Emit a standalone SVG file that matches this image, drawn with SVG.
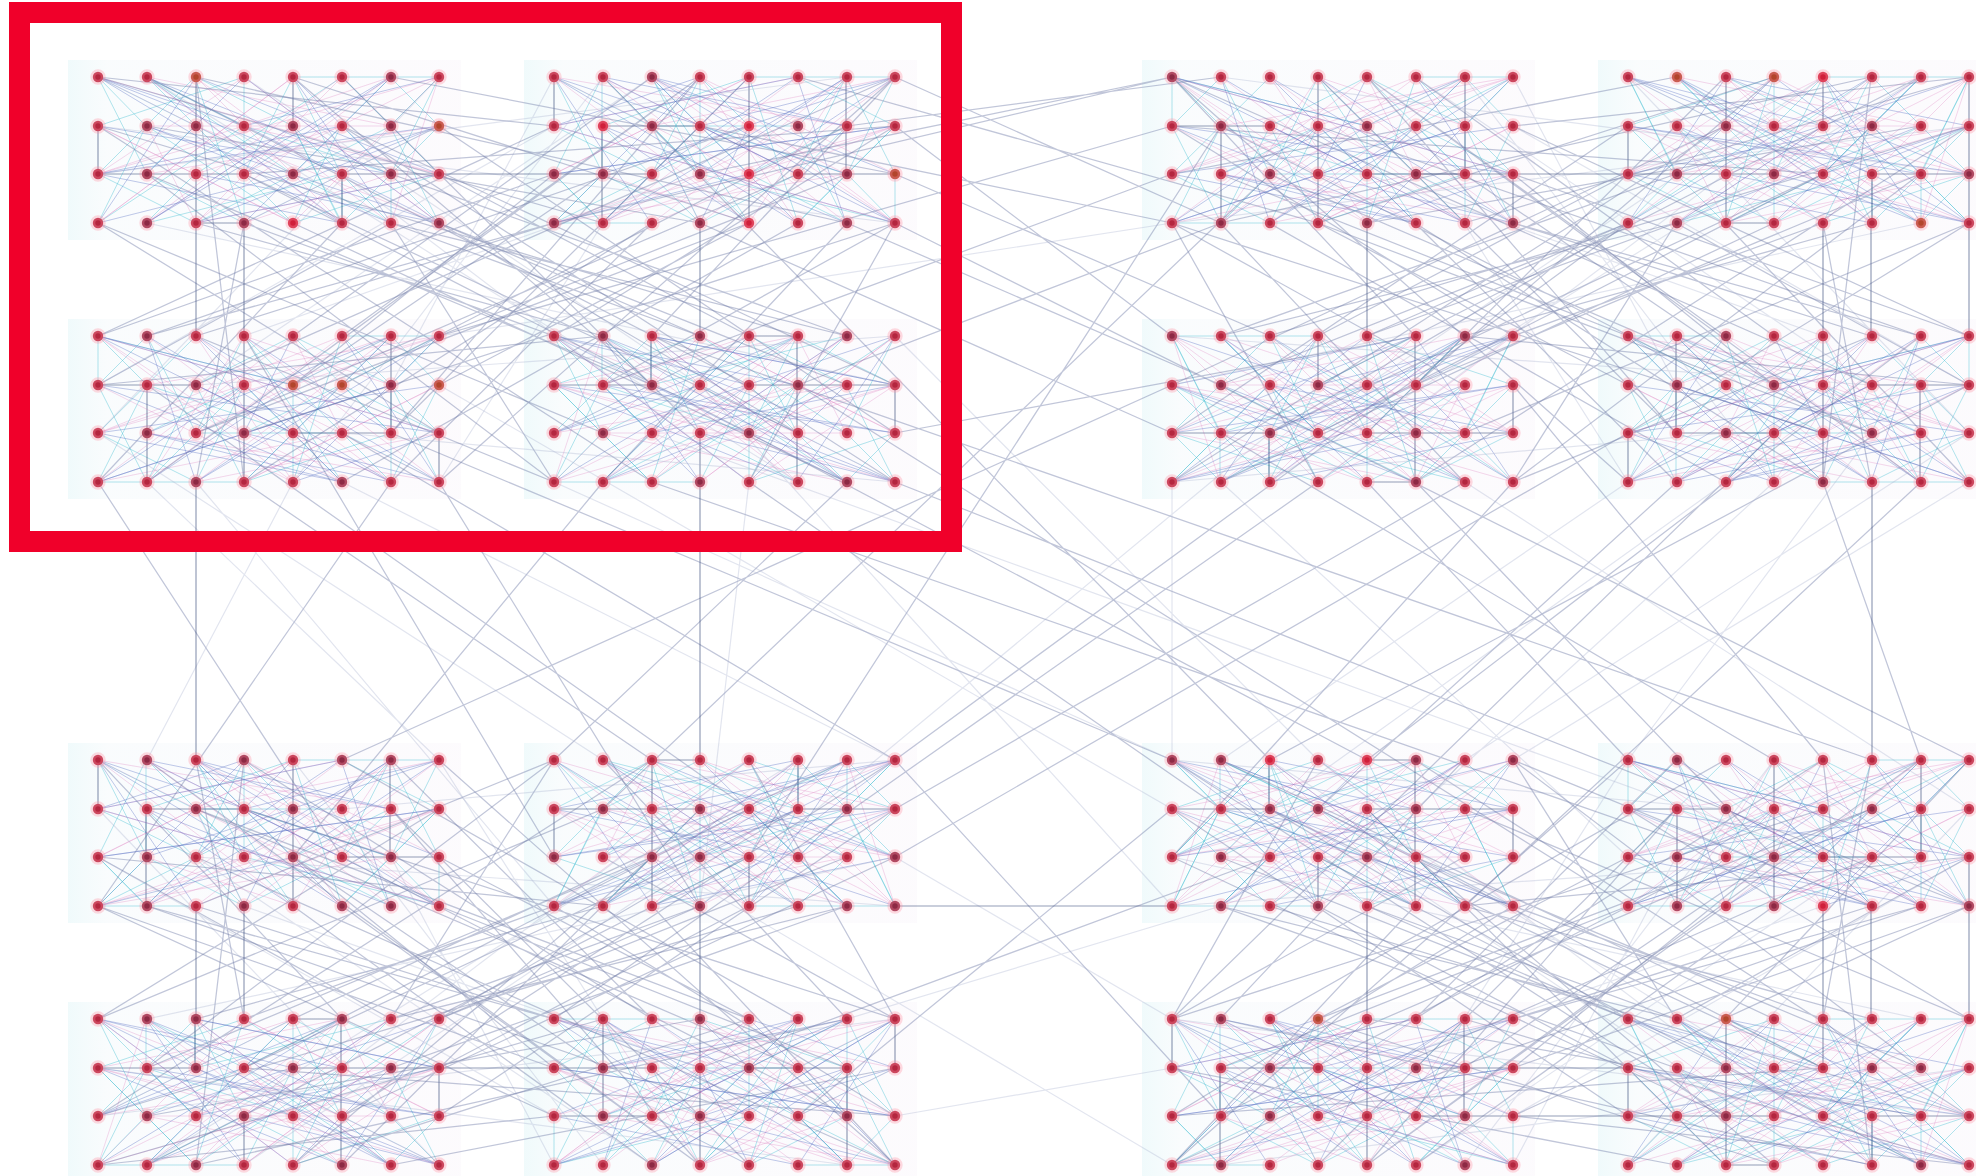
<svg xmlns="http://www.w3.org/2000/svg" xmlns:xlink="http://www.w3.org/1999/xlink" width="1976" height="1176" viewBox="0 0 1976 1176">
<style>
.c{fill:none;stroke:#3fbfd2;stroke-opacity:.4;stroke-width:1}
.p{fill:none;stroke:#df7fbf;stroke-opacity:.3;stroke-width:1}
.b{fill:none;stroke:#5a70c6;stroke-opacity:.38;stroke-width:1}
.d{fill:none;stroke:#3c4c7c;stroke-opacity:.55;stroke-width:1.2}
.g{fill:none;stroke:#6b77a5;stroke-opacity:.42;stroke-width:1.25}
.f{fill:none;stroke:#a7afcf;stroke-opacity:.33;stroke-width:1.2}
.nodes circle{r:5.2px;fill:#b4263f;stroke:#ff8ea2;stroke-opacity:.32;stroke-width:5}
.nodes .k circle{fill:#8d2944}
.nodes .o circle{fill:#b2452c}
.nodes .r circle{fill:#d01f3a}
</style>
<defs>
<linearGradient id="gbg" x1="0" y1="0" x2="1" y2="0">
<stop offset="0" stop-color="#e6f7f9"/><stop offset=".1" stop-color="#f6fafc"/><stop offset="1" stop-color="#fbf8fc"/>
</linearGradient>
<rect id="bg" x="-30" y="-17" width="393" height="180" fill="url(#gbg)" opacity=".6"/>
<g id="P1">
<path class="c" d="M0 0L98 49M49 0L146 97M98 0L195 49M146 0L146 146M195 0L341 0M244 49L341 146M293 0L195 97M341 49L244 146M0 97L98 146M49 49L195 146M98 97L244 0M146 49L293 97M195 146L341 97M0 146L146 49M49 146L244 97M293 146L98 49M244 0L341 97M0 49L146 0M98 146L293 49M146 146L341 49M195 97L49 0M293 97L293 146M244 97L244 146M0 0L49 97M341 0L293 97M195 49L244 146M146 97L195 0M49 97L146 146"/>
<path class="p" d="M0 0L195 97M49 0L293 49M98 49L341 146M146 0L0 97M195 49L49 146M244 0L98 146M293 97L146 146M341 0L195 146M0 146L195 0M49 97L341 49M98 0L244 146M146 97L341 0M293 49L49 49M195 146L0 49M244 49L98 97M341 97L146 49M293 146L341 0M49 49L98 146M0 97L293 0M98 146L341 97"/>
<path class="b" d="M0 0L146 49M0 0L244 97M49 49L293 146M98 0L341 97M146 0L49 97M195 0L293 146M244 49L0 97M293 0L146 97M341 49L98 146M0 97L244 146M49 146L195 49M98 97L341 146M146 146L293 0M195 97L341 49M244 146L49 0M0 146L98 0M293 97L195 0M341 146L146 0M49 0L341 146M0 49L293 97"/>
<path class="d" d="M98 0L98 146M0 49L0 97M0 97L146 97M98 146L146 146M244 97L244 146M244 97L341 97M195 0L195 49"/>
</g>
<g id="P2">
<path class="c" d="M0 0L146 0M49 0L98 97M98 49L244 49M146 0L293 49M195 0L195 97M244 0L146 146M293 0L341 97M341 0L244 49M0 49L98 146M49 49L146 97M98 97L195 146M146 49L341 146M195 49L293 146M244 97L341 49M293 49L195 146M0 146L195 97M49 146L98 49M146 146L244 49M244 146L341 146M0 97L49 0M98 0L0 49M195 146L293 97M341 97L293 146M49 97L195 49M146 97L244 0M293 0L293 97M0 97L0 146"/>
<path class="p" d="M0 0L244 49M49 0L146 146M98 0L341 49M146 0L341 97M195 0L0 146M244 0L49 97M293 0L98 97M341 0L146 97M0 49L244 146M49 49L341 0M98 49L293 146M146 49L0 146M195 97L341 146M244 49L195 146M293 146L0 49M341 146L49 97M98 146L195 0M146 146L293 97"/>
<path class="b" d="M0 0L293 97M49 0L195 97M98 0L49 146M146 0L293 146M195 0L341 146M244 0L0 97M293 0L49 49M341 0L98 146M0 49L341 97M49 49L244 0M98 97L293 0M146 49L195 146M195 49L0 146M244 97L98 0M293 49L146 146M341 49L195 0M0 146L341 49M98 146L244 0M146 97L0 0M244 146L341 0"/>
<path class="d" d="M49 0L49 97M146 0L146 146M0 97L98 97M195 49L293 49M293 49L293 146M341 0L341 49"/>
</g>
<g id="P3">
<path class="c" d="M0 0L49 49M49 0L0 49M98 49L146 146M146 49L98 146M195 49L293 0M244 0L195 146M293 49L341 0M341 146L293 49M0 146L49 49M49 146L146 49M98 97L146 0M195 97L146 146M244 97L293 146M293 97L244 49M341 97L244 0"/>
<path class="p" d="M0 49L195 146M49 0L244 146M98 0L293 146M146 0L341 146M195 0L0 146M244 0L49 146M293 0L98 146M341 49L146 146M0 97L341 0M0 0L341 97"/>
<path class="b" d="M0 146L293 49M49 97L293 0M98 146L341 0M146 97L341 146M195 49L0 0M244 146L0 97M293 146L49 0M341 97L0 49"/>
</g>
<g id="Q">
<path class="g" d="M0 0L456 49M49 49L602 146M98 146L505 259M146 97L700 356M195 146L749 405M244 49L797 308M293 146L456 405M341 97L651 259M0 146L341 356M49 97L554 308M98 0L146 405M146 146L98 405M195 0L651 146M244 146L0 405M293 0L797 97M341 146L602 259M456 146L49 259M505 97L195 308M554 146L293 405M602 0L244 259M651 146L341 308M700 97L98 356M749 146L505 405M797 49L456 259M797 146L651 405M0 259L456 97M49 405L602 0M146 356L797 146M195 259L554 0M244 308L749 49M293 356L651 0M341 405L797 0M0 308L293 146M98 259L456 146M456 259L146 146M505 308L797 146M554 405L0 49M602 356L244 0M651 308L49 0M749 259L293 97M797 356L341 49"/>
<path class="f" d="M0 49L797 146M49 0L700 405M98 308L797 259M146 259L602 97M195 405L505 0M244 356L797 405M293 308L456 0M341 0L0 356M456 49L0 308M505 146L341 405M554 0L98 308M602 308L146 0M651 405L244 97M749 0L0 97M797 308L49 146"/>
<path class="d" d="M98 146L98 259M146 146L146 259M602 146L602 259M341 97L554 97"/>
</g>
<g id="Q2">
<path class="g" d="M0 97L505 146M49 146L651 356M98 97L797 405M146 0L554 259M195 97L456 308M244 0L700 259M293 49L602 405M341 146L749 308M456 0L98 146M505 49L0 259M554 97L195 405M602 146L293 259M651 49L146 308M700 146L0 356M749 97L341 259M797 0L244 356M0 405L505 259M146 308L797 356M293 259L749 146M456 356L0 146M651 259L98 49M797 405L554 146M49 308L456 0M341 259L700 49M98 405L749 259"/>
</g>
</defs>
<rect width="1976" height="1176" fill="#ffffff"/>
<g id="backgrounds">
<use href="#bg" x="98" y="77"/><use href="#bg" x="554" y="77"/><use href="#bg" x="98" y="336"/><use href="#bg" x="554" y="336"/>
<use href="#bg" x="1172" y="77"/><use href="#bg" x="1628" y="77"/><use href="#bg" x="1172" y="336"/><use href="#bg" x="1628" y="336"/>
<use href="#bg" x="98" y="760"/><use href="#bg" x="554" y="760"/><use href="#bg" x="98" y="1019"/><use href="#bg" x="554" y="1019"/>
<use href="#bg" x="1172" y="760"/><use href="#bg" x="1628" y="760"/><use href="#bg" x="1172" y="1019"/><use href="#bg" x="1628" y="1019"/>
</g>
<g id="connectors">
<use href="#P1" transform="translate(98,77)"/>
<use href="#P2" transform="translate(895,77) scale(-1,1)"/>
<use href="#P2" transform="translate(98,482) scale(1,-1)"/>
<use href="#P1" transform="translate(895,482) scale(-1,-1)"/>
<use href="#P2" transform="translate(1172,223) scale(1,-1)"/>
<use href="#P1" transform="translate(1628,77)"/>
<use href="#P1" transform="translate(1513,336) scale(-1,1)"/>
<use href="#P2" transform="translate(1969,482) scale(-1,-1)"/>
<use href="#P2" transform="translate(439,760) scale(-1,1)"/>
<use href="#P1" transform="translate(554,906) scale(1,-1)"/>
<use href="#P1" transform="translate(439,1165) scale(-1,-1)"/>
<use href="#P2" transform="translate(554,1019)"/>
<use href="#P1" transform="translate(1513,906) scale(-1,-1)"/>
<use href="#P2" transform="translate(1628,906) scale(1,-1)"/>
<use href="#P2" transform="translate(1513,1019) scale(-1,1)"/>
<use href="#P1" transform="translate(1628,1019)"/>
<use href="#P3" transform="translate(439,77) scale(-1,1)"/>
<use href="#P3" transform="translate(554,223) scale(1,-1)"/>
<use href="#P3" transform="translate(98,336)"/>
<use href="#P3" transform="translate(895,482) scale(-1,-1)"/>
<use href="#P3" transform="translate(1172,77)"/>
<use href="#P3" transform="translate(1969,223) scale(-1,-1)"/>
<use href="#P3" transform="translate(1172,482) scale(1,-1)"/>
<use href="#P3" transform="translate(1969,336) scale(-1,1)"/>
<use href="#P3" transform="translate(98,906) scale(1,-1)"/>
<use href="#P3" transform="translate(895,760) scale(-1,1)"/>
<use href="#P3" transform="translate(439,1165) scale(-1,-1)"/>
<use href="#P3" transform="translate(554,1019)"/>
<use href="#P3" transform="translate(1513,760) scale(-1,1)"/>
<use href="#P3" transform="translate(1628,760)"/>
<use href="#P3" transform="translate(1172,1165) scale(1,-1)"/>
<use href="#P3" transform="translate(1969,1165) scale(-1,-1)"/>
<use href="#Q" transform="translate(98,77)"/>
<use href="#Q" transform="translate(1969,77) scale(-1,1)"/>
<use href="#Q" transform="translate(98,1165) scale(1,-1)"/>
<use href="#Q" transform="translate(1969,1165) scale(-1,-1)"/>
<use href="#Q2" transform="translate(98,482) scale(1,-1)"/>
<use href="#Q2" transform="translate(1969,482) scale(-1,-1)"/>
<use href="#Q2" transform="translate(98,760)"/>
<use href="#Q2" transform="translate(1969,760) scale(-1,1)"/>
<path class="g" d="M1172 77L554 223M1172 126L439 336M1172 223L700 126M1172 174L603 385M1270 174L603 809M603 77L1270 760M895 482L1969 906M1416 482L1774 857M1921 482L1465 906M1513 482L1172 857M652 482L1726 857M439 482L700 906M603 482L293 857M1221 126L749 857M895 126L1172 336M847 223L1221 385M798 77L1318 223M749 433L1367 760M244 482L652 760M98 482L342 857M391 482L98 906M847 482L554 760M1367 482L1628 760M1677 482L1318 809M1823 482L1921 760M798 385L1628 906M652 336L1872 760M391 433L1172 760M895 223L1969 760M1318 482L554 1019M1628 433L895 857M1172 385L342 760M847 126L1221 77M895 174L1270 336M700 223L1172 433M798 385L1221 223M895 433L1416 336M700 174L1172 77M895 77L1221 223M1172 809L798 1116M895 760L1221 1116M700 1068L1270 857M342 433L895 760M147 385L749 809M1969 385L1270 760M1774 433L1172 1019M1921 336L1367 760M1513 385L1823 760M1221 433L1774 760M244 336L554 857M749 482L1221 809M1465 482L895 809M1628 223L895 760"/>
<path class="f" d="M554 482L1172 760M342 482L895 760M1969 482L1513 760M1726 482L1270 809M1221 482L1628 857M700 385L1172 906M895 336L1318 760M147 482L439 760M293 482L147 760M196 482L554 906M1465 482L1969 809M1872 433L1628 760M1628 482L1221 760M439 385L1172 809M652 433L1823 857M1270 433L700 906M895 857L1172 1019M847 1019L1221 906M895 1116L1172 1068M1172 1165L652 857M749 482L700 906M1172 482L1172 760M1774 482L1416 809M98 433L603 760M1969 433L1465 760M439 336L1172 223"/>
<path class="d" d="M196 482L196 760M700 482L700 760M1872 482L1872 760M895 906L1172 906M1969 77L1969 336M1969 906L1969 1019M1513 1116L1628 1116"/>
</g>
<g class="nodes">
<g id="n0-0"><circle cx="98" cy="77"/></g><g id="n0-1"><circle cx="147" cy="77"/></g><g id="n0-2" class="o"><circle cx="196" cy="77"/></g><g id="n0-3"><circle cx="244" cy="77"/></g><g id="n0-4"><circle cx="293" cy="77"/></g><g id="n0-5"><circle cx="342" cy="77"/></g><g id="n0-6" class="k"><circle cx="391" cy="77"/></g><g id="n0-7"><circle cx="439" cy="77"/></g><g id="n0-8"><circle cx="554" cy="77"/></g><g id="n0-9"><circle cx="603" cy="77"/></g><g id="n0-10" class="k"><circle cx="652" cy="77"/></g><g id="n0-11"><circle cx="700" cy="77"/></g><g id="n0-12"><circle cx="749" cy="77"/></g><g id="n0-13"><circle cx="798" cy="77"/></g><g id="n0-14"><circle cx="847" cy="77"/></g><g id="n0-15"><circle cx="895" cy="77"/></g><g id="n0-16" class="k"><circle cx="1172" cy="77"/></g><g id="n0-17"><circle cx="1221" cy="77"/></g><g id="n0-18"><circle cx="1270" cy="77"/></g><g id="n0-19"><circle cx="1318" cy="77"/></g><g id="n0-20"><circle cx="1367" cy="77"/></g><g id="n0-21"><circle cx="1416" cy="77"/></g><g id="n0-22"><circle cx="1465" cy="77"/></g><g id="n0-23"><circle cx="1513" cy="77"/></g><g id="n0-24"><circle cx="1628" cy="77"/></g><g id="n0-25" class="o"><circle cx="1677" cy="77"/></g><g id="n0-26"><circle cx="1726" cy="77"/></g><g id="n0-27" class="o"><circle cx="1774" cy="77"/></g><g id="n0-28" class="r"><circle cx="1823" cy="77"/></g><g id="n0-29"><circle cx="1872" cy="77"/></g><g id="n0-30"><circle cx="1921" cy="77"/></g><g id="n0-31"><circle cx="1969" cy="77"/></g>
<g id="n1-0"><circle cx="98" cy="126"/></g><g id="n1-1" class="k"><circle cx="147" cy="126"/></g><g id="n1-2" class="k"><circle cx="196" cy="126"/></g><g id="n1-3"><circle cx="244" cy="126"/></g><g id="n1-4" class="k"><circle cx="293" cy="126"/></g><g id="n1-5"><circle cx="342" cy="126"/></g><g id="n1-6" class="k"><circle cx="391" cy="126"/></g><g id="n1-7" class="o"><circle cx="439" cy="126"/></g><g id="n1-8"><circle cx="554" cy="126"/></g><g id="n1-9" class="r"><circle cx="603" cy="126"/></g><g id="n1-10" class="k"><circle cx="652" cy="126"/></g><g id="n1-11"><circle cx="700" cy="126"/></g><g id="n1-12" class="r"><circle cx="749" cy="126"/></g><g id="n1-13" class="k"><circle cx="798" cy="126"/></g><g id="n1-14"><circle cx="847" cy="126"/></g><g id="n1-15"><circle cx="895" cy="126"/></g><g id="n1-16"><circle cx="1172" cy="126"/></g><g id="n1-17" class="k"><circle cx="1221" cy="126"/></g><g id="n1-18"><circle cx="1270" cy="126"/></g><g id="n1-19"><circle cx="1318" cy="126"/></g><g id="n1-20" class="k"><circle cx="1367" cy="126"/></g><g id="n1-21"><circle cx="1416" cy="126"/></g><g id="n1-22"><circle cx="1465" cy="126"/></g><g id="n1-23"><circle cx="1513" cy="126"/></g><g id="n1-24"><circle cx="1628" cy="126"/></g><g id="n1-25"><circle cx="1677" cy="126"/></g><g id="n1-26" class="k"><circle cx="1726" cy="126"/></g><g id="n1-27"><circle cx="1774" cy="126"/></g><g id="n1-28"><circle cx="1823" cy="126"/></g><g id="n1-29" class="k"><circle cx="1872" cy="126"/></g><g id="n1-30"><circle cx="1921" cy="126"/></g><g id="n1-31"><circle cx="1969" cy="126"/></g>
<g id="n2-0"><circle cx="98" cy="174"/></g><g id="n2-1" class="k"><circle cx="147" cy="174"/></g><g id="n2-2"><circle cx="196" cy="174"/></g><g id="n2-3"><circle cx="244" cy="174"/></g><g id="n2-4" class="k"><circle cx="293" cy="174"/></g><g id="n2-5"><circle cx="342" cy="174"/></g><g id="n2-6" class="k"><circle cx="391" cy="174"/></g><g id="n2-7"><circle cx="439" cy="174"/></g><g id="n2-8" class="k"><circle cx="554" cy="174"/></g><g id="n2-9" class="k"><circle cx="603" cy="174"/></g><g id="n2-10"><circle cx="652" cy="174"/></g><g id="n2-11" class="k"><circle cx="700" cy="174"/></g><g id="n2-12" class="r"><circle cx="749" cy="174"/></g><g id="n2-13"><circle cx="798" cy="174"/></g><g id="n2-14" class="k"><circle cx="847" cy="174"/></g><g id="n2-15" class="o"><circle cx="895" cy="174"/></g><g id="n2-16"><circle cx="1172" cy="174"/></g><g id="n2-17"><circle cx="1221" cy="174"/></g><g id="n2-18" class="k"><circle cx="1270" cy="174"/></g><g id="n2-19"><circle cx="1318" cy="174"/></g><g id="n2-20"><circle cx="1367" cy="174"/></g><g id="n2-21" class="k"><circle cx="1416" cy="174"/></g><g id="n2-22"><circle cx="1465" cy="174"/></g><g id="n2-23"><circle cx="1513" cy="174"/></g><g id="n2-24"><circle cx="1628" cy="174"/></g><g id="n2-25" class="k"><circle cx="1677" cy="174"/></g><g id="n2-26"><circle cx="1726" cy="174"/></g><g id="n2-27" class="k"><circle cx="1774" cy="174"/></g><g id="n2-28"><circle cx="1823" cy="174"/></g><g id="n2-29"><circle cx="1872" cy="174"/></g><g id="n2-30"><circle cx="1921" cy="174"/></g><g id="n2-31" class="k"><circle cx="1969" cy="174"/></g>
<g id="n3-0"><circle cx="98" cy="223"/></g><g id="n3-1" class="k"><circle cx="147" cy="223"/></g><g id="n3-2"><circle cx="196" cy="223"/></g><g id="n3-3" class="k"><circle cx="244" cy="223"/></g><g id="n3-4" class="r"><circle cx="293" cy="223"/></g><g id="n3-5"><circle cx="342" cy="223"/></g><g id="n3-6"><circle cx="391" cy="223"/></g><g id="n3-7" class="k"><circle cx="439" cy="223"/></g><g id="n3-8" class="k"><circle cx="554" cy="223"/></g><g id="n3-9"><circle cx="603" cy="223"/></g><g id="n3-10"><circle cx="652" cy="223"/></g><g id="n3-11" class="k"><circle cx="700" cy="223"/></g><g id="n3-12" class="r"><circle cx="749" cy="223"/></g><g id="n3-13"><circle cx="798" cy="223"/></g><g id="n3-14" class="k"><circle cx="847" cy="223"/></g><g id="n3-15"><circle cx="895" cy="223"/></g><g id="n3-16"><circle cx="1172" cy="223"/></g><g id="n3-17" class="k"><circle cx="1221" cy="223"/></g><g id="n3-18"><circle cx="1270" cy="223"/></g><g id="n3-19"><circle cx="1318" cy="223"/></g><g id="n3-20" class="k"><circle cx="1367" cy="223"/></g><g id="n3-21"><circle cx="1416" cy="223"/></g><g id="n3-22"><circle cx="1465" cy="223"/></g><g id="n3-23" class="k"><circle cx="1513" cy="223"/></g><g id="n3-24"><circle cx="1628" cy="223"/></g><g id="n3-25" class="k"><circle cx="1677" cy="223"/></g><g id="n3-26"><circle cx="1726" cy="223"/></g><g id="n3-27"><circle cx="1774" cy="223"/></g><g id="n3-28"><circle cx="1823" cy="223"/></g><g id="n3-29"><circle cx="1872" cy="223"/></g><g id="n3-30" class="o"><circle cx="1921" cy="223"/></g><g id="n3-31"><circle cx="1969" cy="223"/></g>
<g id="n4-0"><circle cx="98" cy="336"/></g><g id="n4-1" class="k"><circle cx="147" cy="336"/></g><g id="n4-2"><circle cx="196" cy="336"/></g><g id="n4-3"><circle cx="244" cy="336"/></g><g id="n4-4"><circle cx="293" cy="336"/></g><g id="n4-5"><circle cx="342" cy="336"/></g><g id="n4-6"><circle cx="391" cy="336"/></g><g id="n4-7"><circle cx="439" cy="336"/></g><g id="n4-8"><circle cx="554" cy="336"/></g><g id="n4-9" class="k"><circle cx="603" cy="336"/></g><g id="n4-10"><circle cx="652" cy="336"/></g><g id="n4-11" class="k"><circle cx="700" cy="336"/></g><g id="n4-12"><circle cx="749" cy="336"/></g><g id="n4-13"><circle cx="798" cy="336"/></g><g id="n4-14" class="k"><circle cx="847" cy="336"/></g><g id="n4-15"><circle cx="895" cy="336"/></g><g id="n4-16" class="k"><circle cx="1172" cy="336"/></g><g id="n4-17"><circle cx="1221" cy="336"/></g><g id="n4-18"><circle cx="1270" cy="336"/></g><g id="n4-19"><circle cx="1318" cy="336"/></g><g id="n4-20"><circle cx="1367" cy="336"/></g><g id="n4-21"><circle cx="1416" cy="336"/></g><g id="n4-22" class="k"><circle cx="1465" cy="336"/></g><g id="n4-23"><circle cx="1513" cy="336"/></g><g id="n4-24"><circle cx="1628" cy="336"/></g><g id="n4-25"><circle cx="1677" cy="336"/></g><g id="n4-26" class="k"><circle cx="1726" cy="336"/></g><g id="n4-27"><circle cx="1774" cy="336"/></g><g id="n4-28"><circle cx="1823" cy="336"/></g><g id="n4-29"><circle cx="1872" cy="336"/></g><g id="n4-30"><circle cx="1921" cy="336"/></g><g id="n4-31"><circle cx="1969" cy="336"/></g>
<g id="n5-0"><circle cx="98" cy="385"/></g><g id="n5-1"><circle cx="147" cy="385"/></g><g id="n5-2" class="k"><circle cx="196" cy="385"/></g><g id="n5-3"><circle cx="244" cy="385"/></g><g id="n5-4" class="o"><circle cx="293" cy="385"/></g><g id="n5-5" class="o"><circle cx="342" cy="385"/></g><g id="n5-6" class="k"><circle cx="391" cy="385"/></g><g id="n5-7" class="o"><circle cx="439" cy="385"/></g><g id="n5-8"><circle cx="554" cy="385"/></g><g id="n5-9"><circle cx="603" cy="385"/></g><g id="n5-10" class="k"><circle cx="652" cy="385"/></g><g id="n5-11"><circle cx="700" cy="385"/></g><g id="n5-12"><circle cx="749" cy="385"/></g><g id="n5-13" class="k"><circle cx="798" cy="385"/></g><g id="n5-14"><circle cx="847" cy="385"/></g><g id="n5-15"><circle cx="895" cy="385"/></g><g id="n5-16"><circle cx="1172" cy="385"/></g><g id="n5-17" class="k"><circle cx="1221" cy="385"/></g><g id="n5-18"><circle cx="1270" cy="385"/></g><g id="n5-19" class="k"><circle cx="1318" cy="385"/></g><g id="n5-20"><circle cx="1367" cy="385"/></g><g id="n5-21"><circle cx="1416" cy="385"/></g><g id="n5-22"><circle cx="1465" cy="385"/></g><g id="n5-23"><circle cx="1513" cy="385"/></g><g id="n5-24"><circle cx="1628" cy="385"/></g><g id="n5-25" class="k"><circle cx="1677" cy="385"/></g><g id="n5-26"><circle cx="1726" cy="385"/></g><g id="n5-27" class="k"><circle cx="1774" cy="385"/></g><g id="n5-28"><circle cx="1823" cy="385"/></g><g id="n5-29"><circle cx="1872" cy="385"/></g><g id="n5-30"><circle cx="1921" cy="385"/></g><g id="n5-31"><circle cx="1969" cy="385"/></g>
<g id="n6-0"><circle cx="98" cy="433"/></g><g id="n6-1" class="k"><circle cx="147" cy="433"/></g><g id="n6-2"><circle cx="196" cy="433"/></g><g id="n6-3" class="k"><circle cx="244" cy="433"/></g><g id="n6-4"><circle cx="293" cy="433"/></g><g id="n6-5"><circle cx="342" cy="433"/></g><g id="n6-6"><circle cx="391" cy="433"/></g><g id="n6-7"><circle cx="439" cy="433"/></g><g id="n6-8"><circle cx="554" cy="433"/></g><g id="n6-9" class="k"><circle cx="603" cy="433"/></g><g id="n6-10"><circle cx="652" cy="433"/></g><g id="n6-11"><circle cx="700" cy="433"/></g><g id="n6-12" class="k"><circle cx="749" cy="433"/></g><g id="n6-13"><circle cx="798" cy="433"/></g><g id="n6-14"><circle cx="847" cy="433"/></g><g id="n6-15"><circle cx="895" cy="433"/></g><g id="n6-16"><circle cx="1172" cy="433"/></g><g id="n6-17"><circle cx="1221" cy="433"/></g><g id="n6-18" class="k"><circle cx="1270" cy="433"/></g><g id="n6-19"><circle cx="1318" cy="433"/></g><g id="n6-20"><circle cx="1367" cy="433"/></g><g id="n6-21" class="k"><circle cx="1416" cy="433"/></g><g id="n6-22"><circle cx="1465" cy="433"/></g><g id="n6-23"><circle cx="1513" cy="433"/></g><g id="n6-24"><circle cx="1628" cy="433"/></g><g id="n6-25"><circle cx="1677" cy="433"/></g><g id="n6-26" class="k"><circle cx="1726" cy="433"/></g><g id="n6-27"><circle cx="1774" cy="433"/></g><g id="n6-28"><circle cx="1823" cy="433"/></g><g id="n6-29" class="k"><circle cx="1872" cy="433"/></g><g id="n6-30"><circle cx="1921" cy="433"/></g><g id="n6-31"><circle cx="1969" cy="433"/></g>
<g id="n7-0"><circle cx="98" cy="482"/></g><g id="n7-1"><circle cx="147" cy="482"/></g><g id="n7-2" class="k"><circle cx="196" cy="482"/></g><g id="n7-3"><circle cx="244" cy="482"/></g><g id="n7-4"><circle cx="293" cy="482"/></g><g id="n7-5" class="k"><circle cx="342" cy="482"/></g><g id="n7-6"><circle cx="391" cy="482"/></g><g id="n7-7"><circle cx="439" cy="482"/></g><g id="n7-8"><circle cx="554" cy="482"/></g><g id="n7-9"><circle cx="603" cy="482"/></g><g id="n7-10"><circle cx="652" cy="482"/></g><g id="n7-11" class="k"><circle cx="700" cy="482"/></g><g id="n7-12"><circle cx="749" cy="482"/></g><g id="n7-13"><circle cx="798" cy="482"/></g><g id="n7-14" class="k"><circle cx="847" cy="482"/></g><g id="n7-15"><circle cx="895" cy="482"/></g><g id="n7-16"><circle cx="1172" cy="482"/></g><g id="n7-17"><circle cx="1221" cy="482"/></g><g id="n7-18"><circle cx="1270" cy="482"/></g><g id="n7-19"><circle cx="1318" cy="482"/></g><g id="n7-20"><circle cx="1367" cy="482"/></g><g id="n7-21" class="k"><circle cx="1416" cy="482"/></g><g id="n7-22"><circle cx="1465" cy="482"/></g><g id="n7-23"><circle cx="1513" cy="482"/></g><g id="n7-24"><circle cx="1628" cy="482"/></g><g id="n7-25"><circle cx="1677" cy="482"/></g><g id="n7-26"><circle cx="1726" cy="482"/></g><g id="n7-27"><circle cx="1774" cy="482"/></g><g id="n7-28" class="k"><circle cx="1823" cy="482"/></g><g id="n7-29"><circle cx="1872" cy="482"/></g><g id="n7-30"><circle cx="1921" cy="482"/></g><g id="n7-31"><circle cx="1969" cy="482"/></g>
<g id="n8-0"><circle cx="98" cy="760"/></g><g id="n8-1" class="k"><circle cx="147" cy="760"/></g><g id="n8-2"><circle cx="196" cy="760"/></g><g id="n8-3" class="k"><circle cx="244" cy="760"/></g><g id="n8-4"><circle cx="293" cy="760"/></g><g id="n8-5" class="k"><circle cx="342" cy="760"/></g><g id="n8-6" class="k"><circle cx="391" cy="760"/></g><g id="n8-7"><circle cx="439" cy="760"/></g><g id="n8-8"><circle cx="554" cy="760"/></g><g id="n8-9"><circle cx="603" cy="760"/></g><g id="n8-10"><circle cx="652" cy="760"/></g><g id="n8-11"><circle cx="700" cy="760"/></g><g id="n8-12"><circle cx="749" cy="760"/></g><g id="n8-13"><circle cx="798" cy="760"/></g><g id="n8-14"><circle cx="847" cy="760"/></g><g id="n8-15"><circle cx="895" cy="760"/></g><g id="n8-16" class="k"><circle cx="1172" cy="760"/></g><g id="n8-17" class="k"><circle cx="1221" cy="760"/></g><g id="n8-18" class="r"><circle cx="1270" cy="760"/></g><g id="n8-19"><circle cx="1318" cy="760"/></g><g id="n8-20" class="r"><circle cx="1367" cy="760"/></g><g id="n8-21" class="k"><circle cx="1416" cy="760"/></g><g id="n8-22"><circle cx="1465" cy="760"/></g><g id="n8-23" class="k"><circle cx="1513" cy="760"/></g><g id="n8-24"><circle cx="1628" cy="760"/></g><g id="n8-25" class="k"><circle cx="1677" cy="760"/></g><g id="n8-26"><circle cx="1726" cy="760"/></g><g id="n8-27"><circle cx="1774" cy="760"/></g><g id="n8-28"><circle cx="1823" cy="760"/></g><g id="n8-29"><circle cx="1872" cy="760"/></g><g id="n8-30"><circle cx="1921" cy="760"/></g><g id="n8-31"><circle cx="1969" cy="760"/></g>
<g id="n9-0"><circle cx="98" cy="809"/></g><g id="n9-1"><circle cx="147" cy="809"/></g><g id="n9-2" class="k"><circle cx="196" cy="809"/></g><g id="n9-3"><circle cx="244" cy="809"/></g><g id="n9-4" class="k"><circle cx="293" cy="809"/></g><g id="n9-5"><circle cx="342" cy="809"/></g><g id="n9-6"><circle cx="391" cy="809"/></g><g id="n9-7"><circle cx="439" cy="809"/></g><g id="n9-8"><circle cx="554" cy="809"/></g><g id="n9-9" class="k"><circle cx="603" cy="809"/></g><g id="n9-10"><circle cx="652" cy="809"/></g><g id="n9-11" class="k"><circle cx="700" cy="809"/></g><g id="n9-12"><circle cx="749" cy="809"/></g><g id="n9-13"><circle cx="798" cy="809"/></g><g id="n9-14" class="k"><circle cx="847" cy="809"/></g><g id="n9-15"><circle cx="895" cy="809"/></g><g id="n9-16"><circle cx="1172" cy="809"/></g><g id="n9-17"><circle cx="1221" cy="809"/></g><g id="n9-18" class="k"><circle cx="1270" cy="809"/></g><g id="n9-19" class="k"><circle cx="1318" cy="809"/></g><g id="n9-20"><circle cx="1367" cy="809"/></g><g id="n9-21" class="k"><circle cx="1416" cy="809"/></g><g id="n9-22"><circle cx="1465" cy="809"/></g><g id="n9-23"><circle cx="1513" cy="809"/></g><g id="n9-24"><circle cx="1628" cy="809"/></g><g id="n9-25"><circle cx="1677" cy="809"/></g><g id="n9-26" class="k"><circle cx="1726" cy="809"/></g><g id="n9-27"><circle cx="1774" cy="809"/></g><g id="n9-28"><circle cx="1823" cy="809"/></g><g id="n9-29" class="k"><circle cx="1872" cy="809"/></g><g id="n9-30"><circle cx="1921" cy="809"/></g><g id="n9-31"><circle cx="1969" cy="809"/></g>
<g id="n10-0"><circle cx="98" cy="857"/></g><g id="n10-1" class="k"><circle cx="147" cy="857"/></g><g id="n10-2"><circle cx="196" cy="857"/></g><g id="n10-3"><circle cx="244" cy="857"/></g><g id="n10-4" class="k"><circle cx="293" cy="857"/></g><g id="n10-5"><circle cx="342" cy="857"/></g><g id="n10-6" class="k"><circle cx="391" cy="857"/></g><g id="n10-7"><circle cx="439" cy="857"/></g><g id="n10-8" class="k"><circle cx="554" cy="857"/></g><g id="n10-9"><circle cx="603" cy="857"/></g><g id="n10-10" class="k"><circle cx="652" cy="857"/></g><g id="n10-11" class="k"><circle cx="700" cy="857"/></g><g id="n10-12"><circle cx="749" cy="857"/></g><g id="n10-13"><circle cx="798" cy="857"/></g><g id="n10-14"><circle cx="847" cy="857"/></g><g id="n10-15" class="k"><circle cx="895" cy="857"/></g><g id="n10-16"><circle cx="1172" cy="857"/></g><g id="n10-17" class="k"><circle cx="1221" cy="857"/></g><g id="n10-18"><circle cx="1270" cy="857"/></g><g id="n10-19"><circle cx="1318" cy="857"/></g><g id="n10-20" class="k"><circle cx="1367" cy="857"/></g><g id="n10-21"><circle cx="1416" cy="857"/></g><g id="n10-22"><circle cx="1465" cy="857"/></g><g id="n10-23"><circle cx="1513" cy="857"/></g><g id="n10-24"><circle cx="1628" cy="857"/></g><g id="n10-25" class="k"><circle cx="1677" cy="857"/></g><g id="n10-26"><circle cx="1726" cy="857"/></g><g id="n10-27" class="k"><circle cx="1774" cy="857"/></g><g id="n10-28"><circle cx="1823" cy="857"/></g><g id="n10-29"><circle cx="1872" cy="857"/></g><g id="n10-30"><circle cx="1921" cy="857"/></g><g id="n10-31"><circle cx="1969" cy="857"/></g>
<g id="n11-0"><circle cx="98" cy="906"/></g><g id="n11-1" class="k"><circle cx="147" cy="906"/></g><g id="n11-2"><circle cx="196" cy="906"/></g><g id="n11-3" class="k"><circle cx="244" cy="906"/></g><g id="n11-4"><circle cx="293" cy="906"/></g><g id="n11-5" class="k"><circle cx="342" cy="906"/></g><g id="n11-6" class="k"><circle cx="391" cy="906"/></g><g id="n11-7"><circle cx="439" cy="906"/></g><g id="n11-8"><circle cx="554" cy="906"/></g><g id="n11-9"><circle cx="603" cy="906"/></g><g id="n11-10"><circle cx="652" cy="906"/></g><g id="n11-11" class="k"><circle cx="700" cy="906"/></g><g id="n11-12"><circle cx="749" cy="906"/></g><g id="n11-13"><circle cx="798" cy="906"/></g><g id="n11-14" class="k"><circle cx="847" cy="906"/></g><g id="n11-15" class="k"><circle cx="895" cy="906"/></g><g id="n11-16"><circle cx="1172" cy="906"/></g><g id="n11-17" class="k"><circle cx="1221" cy="906"/></g><g id="n11-18"><circle cx="1270" cy="906"/></g><g id="n11-19" class="k"><circle cx="1318" cy="906"/></g><g id="n11-20"><circle cx="1367" cy="906"/></g><g id="n11-21"><circle cx="1416" cy="906"/></g><g id="n11-22"><circle cx="1465" cy="906"/></g><g id="n11-23"><circle cx="1513" cy="906"/></g><g id="n11-24"><circle cx="1628" cy="906"/></g><g id="n11-25" class="k"><circle cx="1677" cy="906"/></g><g id="n11-26"><circle cx="1726" cy="906"/></g><g id="n11-27" class="k"><circle cx="1774" cy="906"/></g><g id="n11-28" class="r"><circle cx="1823" cy="906"/></g><g id="n11-29"><circle cx="1872" cy="906"/></g><g id="n11-30"><circle cx="1921" cy="906"/></g><g id="n11-31" class="k"><circle cx="1969" cy="906"/></g>
<g id="n12-0"><circle cx="98" cy="1019"/></g><g id="n12-1" class="k"><circle cx="147" cy="1019"/></g><g id="n12-2" class="k"><circle cx="196" cy="1019"/></g><g id="n12-3"><circle cx="244" cy="1019"/></g><g id="n12-4"><circle cx="293" cy="1019"/></g><g id="n12-5" class="k"><circle cx="342" cy="1019"/></g><g id="n12-6"><circle cx="391" cy="1019"/></g><g id="n12-7"><circle cx="439" cy="1019"/></g><g id="n12-8"><circle cx="554" cy="1019"/></g><g id="n12-9"><circle cx="603" cy="1019"/></g><g id="n12-10"><circle cx="652" cy="1019"/></g><g id="n12-11" class="k"><circle cx="700" cy="1019"/></g><g id="n12-12"><circle cx="749" cy="1019"/></g><g id="n12-13"><circle cx="798" cy="1019"/></g><g id="n12-14"><circle cx="847" cy="1019"/></g><g id="n12-15"><circle cx="895" cy="1019"/></g><g id="n12-16"><circle cx="1172" cy="1019"/></g><g id="n12-17" class="k"><circle cx="1221" cy="1019"/></g><g id="n12-18"><circle cx="1270" cy="1019"/></g><g id="n12-19" class="o"><circle cx="1318" cy="1019"/></g><g id="n12-20"><circle cx="1367" cy="1019"/></g><g id="n12-21"><circle cx="1416" cy="1019"/></g><g id="n12-22"><circle cx="1465" cy="1019"/></g><g id="n12-23"><circle cx="1513" cy="1019"/></g><g id="n12-24"><circle cx="1628" cy="1019"/></g><g id="n12-25"><circle cx="1677" cy="1019"/></g><g id="n12-26" class="o"><circle cx="1726" cy="1019"/></g><g id="n12-27"><circle cx="1774" cy="1019"/></g><g id="n12-28"><circle cx="1823" cy="1019"/></g><g id="n12-29"><circle cx="1872" cy="1019"/></g><g id="n12-30"><circle cx="1921" cy="1019"/></g><g id="n12-31"><circle cx="1969" cy="1019"/></g>
<g id="n13-0"><circle cx="98" cy="1068"/></g><g id="n13-1"><circle cx="147" cy="1068"/></g><g id="n13-2" class="k"><circle cx="196" cy="1068"/></g><g id="n13-3"><circle cx="244" cy="1068"/></g><g id="n13-4" class="k"><circle cx="293" cy="1068"/></g><g id="n13-5"><circle cx="342" cy="1068"/></g><g id="n13-6" class="k"><circle cx="391" cy="1068"/></g><g id="n13-7"><circle cx="439" cy="1068"/></g><g id="n13-8"><circle cx="554" cy="1068"/></g><g id="n13-9" class="k"><circle cx="603" cy="1068"/></g><g id="n13-10"><circle cx="652" cy="1068"/></g><g id="n13-11"><circle cx="700" cy="1068"/></g><g id="n13-12" class="k"><circle cx="749" cy="1068"/></g><g id="n13-13"><circle cx="798" cy="1068"/></g><g id="n13-14"><circle cx="847" cy="1068"/></g><g id="n13-15"><circle cx="895" cy="1068"/></g><g id="n13-16"><circle cx="1172" cy="1068"/></g><g id="n13-17"><circle cx="1221" cy="1068"/></g><g id="n13-18" class="k"><circle cx="1270" cy="1068"/></g><g id="n13-19"><circle cx="1318" cy="1068"/></g><g id="n13-20"><circle cx="1367" cy="1068"/></g><g id="n13-21" class="k"><circle cx="1416" cy="1068"/></g><g id="n13-22"><circle cx="1465" cy="1068"/></g><g id="n13-23"><circle cx="1513" cy="1068"/></g><g id="n13-24"><circle cx="1628" cy="1068"/></g><g id="n13-25"><circle cx="1677" cy="1068"/></g><g id="n13-26" class="k"><circle cx="1726" cy="1068"/></g><g id="n13-27"><circle cx="1774" cy="1068"/></g><g id="n13-28"><circle cx="1823" cy="1068"/></g><g id="n13-29" class="k"><circle cx="1872" cy="1068"/></g><g id="n13-30" class="k"><circle cx="1921" cy="1068"/></g><g id="n13-31"><circle cx="1969" cy="1068"/></g>
<g id="n14-0"><circle cx="98" cy="1116"/></g><g id="n14-1" class="k"><circle cx="147" cy="1116"/></g><g id="n14-2"><circle cx="196" cy="1116"/></g><g id="n14-3" class="k"><circle cx="244" cy="1116"/></g><g id="n14-4"><circle cx="293" cy="1116"/></g><g id="n14-5"><circle cx="342" cy="1116"/></g><g id="n14-6"><circle cx="391" cy="1116"/></g><g id="n14-7"><circle cx="439" cy="1116"/></g><g id="n14-8"><circle cx="554" cy="1116"/></g><g id="n14-9" class="k"><circle cx="603" cy="1116"/></g><g id="n14-10"><circle cx="652" cy="1116"/></g><g id="n14-11" class="k"><circle cx="700" cy="1116"/></g><g id="n14-12"><circle cx="749" cy="1116"/></g><g id="n14-13"><circle cx="798" cy="1116"/></g><g id="n14-14" class="k"><circle cx="847" cy="1116"/></g><g id="n14-15"><circle cx="895" cy="1116"/></g><g id="n14-16"><circle cx="1172" cy="1116"/></g><g id="n14-17"><circle cx="1221" cy="1116"/></g><g id="n14-18" class="k"><circle cx="1270" cy="1116"/></g><g id="n14-19"><circle cx="1318" cy="1116"/></g><g id="n14-20"><circle cx="1367" cy="1116"/></g><g id="n14-21"><circle cx="1416" cy="1116"/></g><g id="n14-22" class="k"><circle cx="1465" cy="1116"/></g><g id="n14-23"><circle cx="1513" cy="1116"/></g><g id="n14-24"><circle cx="1628" cy="1116"/></g><g id="n14-25"><circle cx="1677" cy="1116"/></g><g id="n14-26" class="k"><circle cx="1726" cy="1116"/></g><g id="n14-27"><circle cx="1774" cy="1116"/></g><g id="n14-28"><circle cx="1823" cy="1116"/></g><g id="n14-29"><circle cx="1872" cy="1116"/></g><g id="n14-30"><circle cx="1921" cy="1116"/></g><g id="n14-31"><circle cx="1969" cy="1116"/></g>
<g id="n15-0"><circle cx="98" cy="1165"/></g><g id="n15-1"><circle cx="147" cy="1165"/></g><g id="n15-2" class="k"><circle cx="196" cy="1165"/></g><g id="n15-3"><circle cx="244" cy="1165"/></g><g id="n15-4"><circle cx="293" cy="1165"/></g><g id="n15-5" class="k"><circle cx="342" cy="1165"/></g><g id="n15-6"><circle cx="391" cy="1165"/></g><g id="n15-7"><circle cx="439" cy="1165"/></g><g id="n15-8"><circle cx="554" cy="1165"/></g><g id="n15-9"><circle cx="603" cy="1165"/></g><g id="n15-10" class="k"><circle cx="652" cy="1165"/></g><g id="n15-11"><circle cx="700" cy="1165"/></g><g id="n15-12"><circle cx="749" cy="1165"/></g><g id="n15-13"><circle cx="798" cy="1165"/></g><g id="n15-14"><circle cx="847" cy="1165"/></g><g id="n15-15"><circle cx="895" cy="1165"/></g><g id="n15-16"><circle cx="1172" cy="1165"/></g><g id="n15-17" class="k"><circle cx="1221" cy="1165"/></g><g id="n15-18"><circle cx="1270" cy="1165"/></g><g id="n15-19"><circle cx="1318" cy="1165"/></g><g id="n15-20"><circle cx="1367" cy="1165"/></g><g id="n15-21"><circle cx="1416" cy="1165"/></g><g id="n15-22" class="k"><circle cx="1465" cy="1165"/></g><g id="n15-23"><circle cx="1513" cy="1165"/></g><g id="n15-24"><circle cx="1628" cy="1165"/></g><g id="n15-25"><circle cx="1677" cy="1165"/></g><g id="n15-26"><circle cx="1726" cy="1165"/></g><g id="n15-27"><circle cx="1774" cy="1165"/></g><g id="n15-28"><circle cx="1823" cy="1165"/></g><g id="n15-29"><circle cx="1872" cy="1165"/></g><g id="n15-30" class="k"><circle cx="1921" cy="1165"/></g><g id="n15-31"><circle cx="1969" cy="1165"/></g>
</g>
<rect id="highlight" x="19.5" y="12.5" width="932" height="529" fill="none" stroke="#f0002a" stroke-width="21"/>
</svg>
